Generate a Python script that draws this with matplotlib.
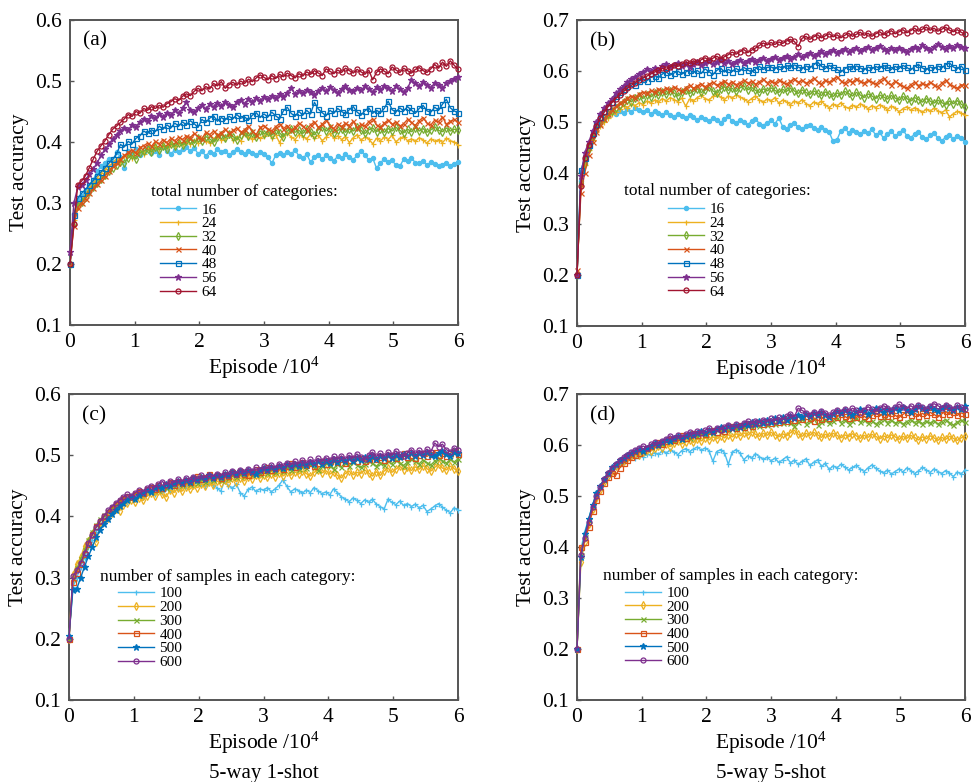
import numpy as np
import matplotlib
matplotlib.use("Agg")
import matplotlib.pyplot as plt

plt.rcParams['font.family'] = ['Liberation Serif', 'DejaVu Serif']
plt.rcParams['mathtext.fontset'] = 'custom'
plt.rcParams['mathtext.rm'] = 'Liberation Serif'
plt.rcParams['mathtext.it'] = 'Liberation Serif:italic'

# ---------------- data ----------------
# episodes (unit: 10^4), one evaluation every 600 episodes
episode = np.linspace(0, 6, 101)

# panel (a): 5-way 1-shot, total number of categories
a_16 = [0.200, 0.282, 0.305, 0.312, 0.318, 0.330, 0.338, 0.352, 0.360, 0.366,
        0.372, 0.368, 0.383, 0.376, 0.358, 0.385, 0.381, 0.388, 0.379, 0.384,
        0.390, 0.382, 0.386, 0.378, 0.392, 0.385, 0.380, 0.387, 0.383, 0.389,
        0.391, 0.386, 0.390, 0.381, 0.385, 0.377, 0.384, 0.380, 0.388, 0.383,
        0.386, 0.379, 0.383, 0.389, 0.384, 0.380, 0.386, 0.382, 0.378, 0.383,
        0.380, 0.376, 0.365, 0.378, 0.382, 0.379, 0.384, 0.380, 0.387, 0.377,
        0.373, 0.380, 0.367, 0.375, 0.379, 0.372, 0.378, 0.374, 0.369, 0.377,
        0.373, 0.380, 0.376, 0.371, 0.378, 0.386, 0.379, 0.370, 0.374, 0.357,
        0.366, 0.372, 0.367, 0.370, 0.362, 0.360, 0.372, 0.369, 0.374, 0.366,
        0.365, 0.369, 0.362, 0.367, 0.364, 0.360, 0.363, 0.366, 0.361, 0.364,
        0.367]
a_24 = [0.200, 0.272, 0.298, 0.305, 0.314, 0.325, 0.332, 0.341, 0.349, 0.355,
        0.360, 0.366, 0.372, 0.368, 0.377, 0.380, 0.374, 0.383, 0.386, 0.381,
        0.390, 0.386, 0.393, 0.388, 0.395, 0.392, 0.398, 0.394, 0.400, 0.396,
        0.401, 0.397, 0.404, 0.399, 0.406, 0.402, 0.398, 0.405, 0.410, 0.403,
        0.407, 0.412, 0.404, 0.409, 0.401, 0.413, 0.408, 0.405, 0.411, 0.406,
        0.410, 0.414, 0.407, 0.412, 0.399, 0.411, 0.415, 0.408, 0.404, 0.412,
        0.409, 0.405, 0.413, 0.407, 0.411, 0.402, 0.408, 0.414, 0.406, 0.410,
        0.404, 0.409, 0.399, 0.407, 0.412, 0.403, 0.408, 0.405, 0.397, 0.406,
        0.402, 0.408, 0.404, 0.411, 0.400, 0.406, 0.409, 0.402, 0.405, 0.401,
        0.407, 0.403, 0.398, 0.405, 0.401, 0.404, 0.399, 0.406, 0.402, 0.400,
        0.395]
a_32 = [0.200, 0.268, 0.295, 0.302, 0.310, 0.318, 0.326, 0.333, 0.340, 0.346,
        0.352, 0.358, 0.362, 0.368, 0.366, 0.374, 0.378, 0.372, 0.382, 0.385,
        0.388, 0.384, 0.391, 0.387, 0.394, 0.389, 0.397, 0.393, 0.399, 0.395,
        0.401, 0.404, 0.398, 0.406, 0.402, 0.409, 0.405, 0.400, 0.408, 0.411,
        0.407, 0.413, 0.409, 0.404, 0.412, 0.416, 0.410, 0.414, 0.408, 0.418,
        0.413, 0.417, 0.411, 0.420, 0.415, 0.409, 0.418, 0.422, 0.416, 0.419,
        0.414, 0.421, 0.417, 0.412, 0.420, 0.424, 0.418, 0.423, 0.415, 0.419,
        0.422, 0.416, 0.421, 0.418, 0.425, 0.419, 0.414, 0.420, 0.423, 0.417,
        0.421, 0.416, 0.422, 0.418, 0.424, 0.419, 0.415, 0.421, 0.417, 0.423,
        0.418, 0.422, 0.416, 0.420, 0.425, 0.419, 0.417, 0.423, 0.418, 0.421,
        0.419]
a_40 = [0.200, 0.262, 0.292, 0.300, 0.307, 0.316, 0.324, 0.331, 0.338, 0.345,
        0.352, 0.360, 0.366, 0.372, 0.378, 0.383, 0.387, 0.382, 0.391, 0.394,
        0.398, 0.393, 0.401, 0.397, 0.404, 0.399, 0.406, 0.402, 0.408, 0.404,
        0.410, 0.407, 0.414, 0.409, 0.405, 0.416, 0.412, 0.418, 0.411, 0.415,
        0.421, 0.414, 0.419, 0.423, 0.416, 0.420, 0.426, 0.418, 0.412, 0.424,
        0.427, 0.421, 0.418, 0.425, 0.430, 0.422, 0.427, 0.419, 0.424, 0.431,
        0.426, 0.420, 0.428, 0.433, 0.424, 0.429, 0.436, 0.427, 0.422, 0.430,
        0.425, 0.431, 0.427, 0.434, 0.423, 0.429, 0.426, 0.433, 0.438, 0.428,
        0.424, 0.431, 0.436, 0.429, 0.433, 0.426, 0.430, 0.437, 0.432, 0.427,
        0.435, 0.440, 0.431, 0.428, 0.436, 0.433, 0.441, 0.429, 0.434, 0.437,
        0.432]
a_48 = [0.200, 0.280, 0.308, 0.316, 0.322, 0.330, 0.337, 0.345, 0.351, 0.358,
        0.365, 0.372, 0.380, 0.396, 0.392, 0.401, 0.397, 0.406, 0.410, 0.418,
        0.414, 0.420, 0.417, 0.426, 0.421, 0.428, 0.423, 0.431, 0.426, 0.433,
        0.428, 0.435, 0.430, 0.424, 0.437, 0.432, 0.439, 0.443, 0.434, 0.440,
        0.436, 0.442, 0.438, 0.445, 0.439, 0.441, 0.436, 0.444, 0.448, 0.440,
        0.446, 0.441, 0.449, 0.443, 0.438, 0.451, 0.457, 0.447, 0.442, 0.450,
        0.444, 0.452, 0.446, 0.465, 0.454, 0.448, 0.443, 0.452, 0.447, 0.455,
        0.450, 0.446, 0.453, 0.458, 0.449, 0.444, 0.451, 0.456, 0.447, 0.452,
        0.448, 0.455, 0.467, 0.453, 0.449, 0.456, 0.451, 0.458, 0.452, 0.447,
        0.455, 0.460, 0.451, 0.449, 0.457, 0.452, 0.462, 0.470, 0.456, 0.451,
        0.448]
a_56 = [0.220, 0.300, 0.326, 0.330, 0.338, 0.347, 0.356, 0.366, 0.378, 0.388,
        0.396, 0.405, 0.412, 0.418, 0.423, 0.420, 0.428, 0.425, 0.433, 0.438,
        0.435, 0.442, 0.439, 0.446, 0.441, 0.448, 0.444, 0.452, 0.447, 0.455,
        0.466, 0.452, 0.449, 0.456, 0.460, 0.454, 0.462, 0.457, 0.464, 0.459,
        0.466, 0.461, 0.458, 0.465, 0.469, 0.463, 0.470, 0.466, 0.472, 0.468,
        0.474, 0.470, 0.476, 0.472, 0.479, 0.474, 0.481, 0.489, 0.478, 0.484,
        0.480, 0.486, 0.482, 0.477, 0.484, 0.488, 0.483, 0.490, 0.485, 0.481,
        0.487, 0.492, 0.486, 0.483, 0.489, 0.485, 0.491, 0.487, 0.482, 0.490,
        0.486, 0.492, 0.488, 0.484, 0.491, 0.487, 0.482, 0.489, 0.501, 0.496,
        0.492, 0.498, 0.494, 0.489, 0.497, 0.493, 0.488, 0.496, 0.500, 0.503,
        0.507]
a_64 = [0.200, 0.265, 0.330, 0.336, 0.345, 0.358, 0.372, 0.385, 0.394, 0.402,
        0.412, 0.421, 0.426, 0.432, 0.438, 0.445, 0.442, 0.450, 0.447, 0.455,
        0.452, 0.458, 0.455, 0.460, 0.457, 0.463, 0.466, 0.471, 0.468, 0.475,
        0.479, 0.476, 0.483, 0.488, 0.484, 0.491, 0.487, 0.496, 0.492, 0.499,
        0.488, 0.494, 0.498, 0.493, 0.500, 0.496, 0.503, 0.499, 0.505, 0.510,
        0.506, 0.502, 0.509, 0.504, 0.511, 0.507, 0.513, 0.509, 0.505, 0.512,
        0.508, 0.515, 0.511, 0.517, 0.513, 0.509, 0.520, 0.516, 0.512, 0.518,
        0.514, 0.521, 0.517, 0.513, 0.519, 0.515, 0.511, 0.518, 0.502, 0.514,
        0.520, 0.516, 0.512, 0.523, 0.518, 0.514, 0.521, 0.517, 0.513, 0.519,
        0.522, 0.517, 0.514, 0.520, 0.527, 0.521, 0.531, 0.524, 0.533, 0.526,
        0.519]

# panel (b): 5-way 5-shot, total number of categories
b_16 = [0.200, 0.385, 0.420, 0.450, 0.475, 0.490, 0.500, 0.505, 0.512, 0.520,
        0.515, 0.522, 0.518, 0.525, 0.520, 0.527, 0.523, 0.519, 0.524, 0.516,
        0.521, 0.517, 0.513, 0.519, 0.514, 0.510, 0.516, 0.511, 0.507, 0.513,
        0.509, 0.504, 0.510, 0.506, 0.501, 0.508, 0.503, 0.499, 0.505, 0.511,
        0.502, 0.498, 0.504, 0.500, 0.495, 0.501, 0.506, 0.497, 0.493, 0.499,
        0.503, 0.496, 0.508, 0.491, 0.487, 0.494, 0.498, 0.490, 0.486, 0.492,
        0.495, 0.488, 0.484, 0.491, 0.485, 0.480, 0.462, 0.465, 0.483, 0.488,
        0.479, 0.485, 0.481, 0.476, 0.483, 0.478, 0.486, 0.474, 0.480, 0.468,
        0.477, 0.483, 0.472, 0.478, 0.485, 0.473, 0.469, 0.476, 0.481, 0.470,
        0.466, 0.474, 0.479, 0.468, 0.462, 0.471, 0.475, 0.467, 0.473, 0.469,
        0.460]
b_24 = [0.200, 0.375, 0.415, 0.445, 0.465, 0.480, 0.492, 0.500, 0.508, 0.515,
        0.520, 0.526, 0.531, 0.528, 0.535, 0.532, 0.538, 0.534, 0.541, 0.537,
        0.543, 0.539, 0.546, 0.541, 0.548, 0.544, 0.540, 0.547, 0.531, 0.545,
        0.541, 0.548, 0.552, 0.546, 0.543, 0.550, 0.555, 0.549, 0.544, 0.551,
        0.547, 0.553, 0.549, 0.545, 0.540, 0.546, 0.551, 0.543, 0.539, 0.545,
        0.541, 0.548, 0.537, 0.543, 0.539, 0.534, 0.541, 0.537, 0.544, 0.536,
        0.532, 0.539, 0.535, 0.541, 0.533, 0.528, 0.535, 0.531, 0.538, 0.530,
        0.527, 0.533, 0.529, 0.536, 0.531, 0.526, 0.532, 0.528, 0.534, 0.529,
        0.524, 0.531, 0.527, 0.520, 0.526, 0.530, 0.523, 0.528, 0.524, 0.519,
        0.525, 0.521, 0.527, 0.522, 0.518, 0.524, 0.510, 0.516, 0.521, 0.517,
        0.513]
b_32 = [0.200, 0.380, 0.418, 0.448, 0.470, 0.486, 0.498, 0.507, 0.515, 0.522,
        0.528, 0.534, 0.539, 0.543, 0.540, 0.547, 0.551, 0.546, 0.553, 0.549,
        0.556, 0.552, 0.559, 0.554, 0.561, 0.557, 0.551, 0.558, 0.563, 0.556,
        0.560, 0.565, 0.558, 0.562, 0.568, 0.561, 0.557, 0.564, 0.569, 0.562,
        0.566, 0.560, 0.567, 0.571, 0.563, 0.568, 0.562, 0.558, 0.565, 0.561,
        0.567, 0.562, 0.558, 0.564, 0.560, 0.566, 0.561, 0.556, 0.563, 0.558,
        0.554, 0.561, 0.557, 0.552, 0.559, 0.555, 0.550, 0.557, 0.553, 0.560,
        0.556, 0.551, 0.558, 0.553, 0.548, 0.555, 0.551, 0.546, 0.553, 0.549,
        0.545, 0.552, 0.547, 0.543, 0.550, 0.546, 0.541, 0.548, 0.544, 0.539,
        0.546, 0.541, 0.537, 0.543, 0.538, 0.534, 0.541, 0.536, 0.542, 0.535,
        0.530]
b_40 = [0.210, 0.360, 0.400, 0.435, 0.460, 0.480, 0.495, 0.506, 0.516, 0.524,
        0.531, 0.537, 0.542, 0.547, 0.551, 0.548, 0.555, 0.559, 0.556, 0.562,
        0.558, 0.565, 0.561, 0.567, 0.563, 0.569, 0.565, 0.560, 0.567, 0.572,
        0.566, 0.571, 0.575, 0.569, 0.574, 0.578, 0.572, 0.576, 0.581, 0.574,
        0.579, 0.573, 0.577, 0.582, 0.576, 0.580, 0.574, 0.579, 0.584, 0.577,
        0.581, 0.576, 0.583, 0.578, 0.574, 0.580, 0.585, 0.578, 0.582, 0.576,
        0.580, 0.586, 0.579, 0.575, 0.582, 0.578, 0.584, 0.589, 0.581, 0.576,
        0.583, 0.578, 0.585, 0.580, 0.576, 0.582, 0.578, 0.574, 0.581, 0.586,
        0.578, 0.573, 0.580, 0.575, 0.570, 0.566, 0.573, 0.578, 0.571, 0.576,
        0.572, 0.578, 0.573, 0.569, 0.576, 0.582, 0.574, 0.570, 0.566, 0.573,
        0.572]
b_48 = [0.200, 0.405, 0.430, 0.455, 0.478, 0.496, 0.510, 0.522, 0.531, 0.540,
        0.550, 0.558, 0.565, 0.571, 0.576, 0.573, 0.580, 0.584, 0.581, 0.587,
        0.591, 0.587, 0.594, 0.598, 0.592, 0.596, 0.600, 0.594, 0.598, 0.602,
        0.597, 0.601, 0.595, 0.604, 0.599, 0.593, 0.601, 0.606, 0.598, 0.603,
        0.599, 0.605, 0.600, 0.607, 0.602, 0.598, 0.604, 0.609, 0.603, 0.607,
        0.608, 0.604, 0.609, 0.605, 0.611, 0.607, 0.612, 0.608, 0.604, 0.610,
        0.606, 0.612, 0.618, 0.609, 0.605, 0.611, 0.607, 0.603, 0.598, 0.604,
        0.609, 0.605, 0.610, 0.606, 0.602, 0.608, 0.604, 0.609, 0.605, 0.611,
        0.607, 0.603, 0.609, 0.605, 0.611, 0.607, 0.602, 0.608, 0.613, 0.606,
        0.602, 0.608, 0.604, 0.610, 0.606, 0.612, 0.616, 0.608, 0.604, 0.610,
        0.601]
b_56 = [0.200, 0.395, 0.440, 0.460, 0.482, 0.500, 0.515, 0.527, 0.537, 0.546,
        0.556, 0.564, 0.571, 0.578, 0.584, 0.589, 0.594, 0.598, 0.603, 0.600,
        0.606, 0.602, 0.609, 0.613, 0.607, 0.612, 0.616, 0.610, 0.614, 0.608,
        0.613, 0.617, 0.611, 0.615, 0.619, 0.613, 0.617, 0.621, 0.615, 0.619,
        0.614, 0.618, 0.622, 0.616, 0.620, 0.624, 0.618, 0.622, 0.626, 0.620,
        0.624, 0.628, 0.622, 0.626, 0.630, 0.624, 0.628, 0.633, 0.627, 0.631,
        0.636, 0.630, 0.634, 0.639, 0.633, 0.637, 0.642, 0.636, 0.640, 0.644,
        0.637, 0.641, 0.645, 0.639, 0.643, 0.647, 0.641, 0.645, 0.649, 0.643,
        0.640, 0.645, 0.641, 0.646, 0.642, 0.638, 0.644, 0.648, 0.643, 0.651,
        0.646, 0.642, 0.648, 0.653, 0.647, 0.643, 0.649, 0.645, 0.651, 0.648,
        0.646]
b_64 = [0.200, 0.375, 0.430, 0.455, 0.475, 0.493, 0.507, 0.519, 0.530, 0.538,
        0.546, 0.553, 0.560, 0.566, 0.572, 0.577, 0.582, 0.586, 0.590, 0.594,
        0.598, 0.601, 0.605, 0.603, 0.608, 0.612, 0.609, 0.614, 0.618, 0.615,
        0.620, 0.617, 0.622, 0.626, 0.621, 0.625, 0.629, 0.624, 0.628, 0.632,
        0.637, 0.633, 0.638, 0.642, 0.636, 0.641, 0.645, 0.650, 0.655, 0.651,
        0.656, 0.652, 0.657, 0.654, 0.659, 0.662, 0.658, 0.648, 0.664, 0.668,
        0.662, 0.667, 0.671, 0.665, 0.669, 0.673, 0.667, 0.671, 0.665, 0.670,
        0.674, 0.668, 0.672, 0.676, 0.670, 0.674, 0.668, 0.673, 0.677, 0.671,
        0.675, 0.679, 0.673, 0.677, 0.681, 0.675, 0.679, 0.684, 0.678, 0.682,
        0.686, 0.680, 0.684, 0.678, 0.682, 0.686, 0.680, 0.677, 0.681, 0.676,
        0.672]

# panel (c): 5-way 1-shot, number of samples in each category
c_100 = [0.205, 0.285, 0.300, 0.318, 0.332, 0.350, 0.362, 0.375, 0.385, 0.394,
         0.402, 0.408, 0.415, 0.420, 0.426, 0.424, 0.431, 0.428, 0.435, 0.432,
         0.438, 0.442, 0.437, 0.444, 0.440, 0.447, 0.443, 0.450, 0.446, 0.452,
         0.449, 0.455, 0.451, 0.457, 0.453, 0.449, 0.456, 0.452, 0.447, 0.441,
         0.458, 0.450, 0.446, 0.453, 0.439, 0.433, 0.444, 0.448, 0.441, 0.445,
         0.443, 0.447, 0.440, 0.445, 0.451, 0.460, 0.449, 0.440, 0.445, 0.442,
         0.438, 0.443, 0.439, 0.447, 0.442, 0.437, 0.440, 0.435, 0.445, 0.439,
         0.432, 0.428, 0.424, 0.430, 0.426, 0.421, 0.427, 0.423, 0.428, 0.420,
         0.416, 0.412, 0.428, 0.423, 0.419, 0.425, 0.418, 0.421, 0.416, 0.420,
         0.414, 0.418, 0.408, 0.412, 0.417, 0.421, 0.415, 0.410, 0.406, 0.414,
         0.410]
c_200 = [0.200, 0.305, 0.322, 0.333, 0.352, 0.360, 0.371, 0.358, 0.384, 0.392,
         0.398, 0.406, 0.412, 0.409, 0.418, 0.422, 0.427, 0.423, 0.430, 0.426,
         0.433, 0.438, 0.434, 0.441, 0.436, 0.432, 0.443, 0.439, 0.446, 0.441,
         0.448, 0.444, 0.451, 0.447, 0.453, 0.449, 0.456, 0.451, 0.458, 0.454,
         0.460, 0.455, 0.462, 0.457, 0.463, 0.458, 0.465, 0.461, 0.467, 0.462,
         0.468, 0.464, 0.470, 0.465, 0.471, 0.466, 0.472, 0.467, 0.473, 0.469,
         0.474, 0.470, 0.466, 0.472, 0.476, 0.471, 0.475, 0.469, 0.473, 0.467,
         0.463, 0.470, 0.474, 0.468, 0.472, 0.470, 0.476, 0.471, 0.466, 0.473,
         0.467, 0.474, 0.479, 0.472, 0.477, 0.482, 0.476, 0.480, 0.475, 0.481,
         0.477, 0.483, 0.478, 0.474, 0.480, 0.485, 0.479, 0.476, 0.482, 0.478,
         0.474]
c_300 = [0.200, 0.298, 0.315, 0.330, 0.345, 0.362, 0.375, 0.386, 0.395, 0.402,
         0.409, 0.415, 0.421, 0.426, 0.431, 0.428, 0.434, 0.438, 0.435, 0.440,
         0.444, 0.441, 0.447, 0.443, 0.450, 0.446, 0.452, 0.449, 0.455, 0.451,
         0.457, 0.453, 0.459, 0.455, 0.461, 0.457, 0.463, 0.459, 0.465, 0.460,
         0.466, 0.462, 0.468, 0.464, 0.470, 0.466, 0.472, 0.468, 0.473, 0.469,
         0.475, 0.471, 0.477, 0.473, 0.479, 0.474, 0.480, 0.476, 0.482, 0.477,
         0.483, 0.479, 0.485, 0.480, 0.476, 0.482, 0.487, 0.483, 0.478, 0.485,
         0.481, 0.487, 0.483, 0.489, 0.484, 0.480, 0.486, 0.491, 0.487, 0.482,
         0.488, 0.484, 0.490, 0.486, 0.492, 0.487, 0.483, 0.489, 0.494, 0.490,
         0.486, 0.492, 0.488, 0.484, 0.490, 0.495, 0.491, 0.487, 0.493, 0.489,
         0.494]
c_400 = [0.200, 0.292, 0.308, 0.322, 0.338, 0.355, 0.372, 0.384, 0.393, 0.401,
         0.407, 0.414, 0.420, 0.425, 0.430, 0.434, 0.431, 0.437, 0.441, 0.438,
         0.444, 0.448, 0.445, 0.451, 0.447, 0.453, 0.456, 0.452, 0.458, 0.455,
         0.460, 0.457, 0.462, 0.466, 0.461, 0.465, 0.469, 0.464, 0.468, 0.463,
         0.470, 0.466, 0.472, 0.469, 0.474, 0.470, 0.467, 0.473, 0.477, 0.472,
         0.476, 0.480, 0.475, 0.479, 0.483, 0.478, 0.482, 0.487, 0.481, 0.485,
         0.489, 0.484, 0.488, 0.483, 0.487, 0.491, 0.486, 0.490, 0.494, 0.489,
         0.493, 0.488, 0.492, 0.496, 0.491, 0.495, 0.490, 0.494, 0.498, 0.493,
         0.497, 0.492, 0.496, 0.500, 0.495, 0.499, 0.503, 0.497, 0.501, 0.496,
         0.500, 0.504, 0.498, 0.502, 0.506, 0.500, 0.504, 0.499, 0.503, 0.507,
         0.502]
c_500 = [0.205, 0.280, 0.282, 0.300, 0.318, 0.335, 0.350, 0.366, 0.378, 0.388,
         0.396, 0.404, 0.411, 0.417, 0.422, 0.427, 0.432, 0.429, 0.435, 0.439,
         0.443, 0.440, 0.446, 0.450, 0.447, 0.453, 0.449, 0.455, 0.458, 0.454,
         0.460, 0.456, 0.462, 0.459, 0.464, 0.461, 0.467, 0.463, 0.468, 0.465,
         0.470, 0.467, 0.472, 0.469, 0.474, 0.471, 0.476, 0.473, 0.470, 0.476,
         0.479, 0.475, 0.481, 0.478, 0.483, 0.479, 0.485, 0.481, 0.486, 0.482,
         0.487, 0.484, 0.489, 0.485, 0.490, 0.486, 0.491, 0.488, 0.493, 0.489,
         0.494, 0.490, 0.495, 0.491, 0.496, 0.492, 0.497, 0.493, 0.498, 0.494,
         0.499, 0.495, 0.500, 0.496, 0.501, 0.497, 0.502, 0.498, 0.503, 0.499,
         0.504, 0.500, 0.505, 0.501, 0.498, 0.503, 0.507, 0.502, 0.499, 0.505,
         0.503]
c_600 = [0.200, 0.302, 0.312, 0.324, 0.340, 0.356, 0.370, 0.382, 0.392, 0.400,
         0.410, 0.416, 0.422, 0.427, 0.432, 0.436, 0.433, 0.439, 0.443, 0.440,
         0.446, 0.450, 0.447, 0.453, 0.457, 0.452, 0.458, 0.455, 0.461, 0.457,
         0.463, 0.459, 0.465, 0.461, 0.467, 0.463, 0.468, 0.465, 0.470, 0.466,
         0.472, 0.468, 0.474, 0.470, 0.476, 0.472, 0.478, 0.474, 0.480, 0.476,
         0.482, 0.478, 0.484, 0.479, 0.486, 0.482, 0.488, 0.484, 0.490, 0.486,
         0.492, 0.487, 0.493, 0.489, 0.495, 0.490, 0.496, 0.492, 0.498, 0.493,
         0.499, 0.494, 0.500, 0.495, 0.502, 0.497, 0.493, 0.500, 0.505, 0.498,
         0.503, 0.498, 0.505, 0.500, 0.507, 0.502, 0.498, 0.504, 0.509, 0.503,
         0.508, 0.503, 0.510, 0.505, 0.520, 0.514, 0.518, 0.509, 0.506, 0.512,
         0.508]

# panel (d): 5-way 5-shot, number of samples in each category
d_100 = [0.200, 0.395, 0.430, 0.455, 0.482, 0.505, 0.518, 0.532, 0.542, 0.552,
         0.558, 0.563, 0.568, 0.572, 0.576, 0.574, 0.579, 0.577, 0.582, 0.580,
         0.585, 0.582, 0.588, 0.584, 0.590, 0.586, 0.581, 0.589, 0.593, 0.587,
         0.592, 0.596, 0.590, 0.594, 0.589, 0.568, 0.587, 0.591, 0.585, 0.562,
         0.586, 0.591, 0.584, 0.571, 0.579, 0.574, 0.583, 0.577, 0.572, 0.576,
         0.569, 0.574, 0.566, 0.571, 0.577, 0.565, 0.570, 0.562, 0.568, 0.573,
         0.560, 0.566, 0.571, 0.558, 0.564, 0.552, 0.559, 0.555, 0.562, 0.557,
         0.551, 0.556, 0.560, 0.553, 0.548, 0.555, 0.561, 0.554, 0.549, 0.545,
         0.551, 0.543, 0.548, 0.553, 0.547, 0.555, 0.550, 0.544, 0.549, 0.556,
         0.551, 0.546, 0.553, 0.548, 0.544, 0.550, 0.545, 0.538, 0.547, 0.543,
         0.551]
d_200 = [0.200, 0.370, 0.410, 0.445, 0.475, 0.497, 0.512, 0.528, 0.540, 0.550,
         0.558, 0.564, 0.569, 0.574, 0.578, 0.583, 0.580, 0.587, 0.591, 0.588,
         0.594, 0.598, 0.595, 0.601, 0.597, 0.603, 0.607, 0.602, 0.606, 0.610,
         0.605, 0.611, 0.608, 0.614, 0.610, 0.616, 0.612, 0.618, 0.614, 0.620,
         0.616, 0.622, 0.618, 0.624, 0.619, 0.626, 0.621, 0.617, 0.623, 0.619,
         0.625, 0.620, 0.616, 0.622, 0.618, 0.624, 0.629, 0.621, 0.617, 0.623,
         0.619, 0.625, 0.620, 0.615, 0.621, 0.617, 0.623, 0.619, 0.614, 0.620,
         0.616, 0.622, 0.618, 0.613, 0.619, 0.615, 0.621, 0.617, 0.612, 0.618,
         0.614, 0.620, 0.616, 0.611, 0.617, 0.613, 0.619, 0.615, 0.610, 0.616,
         0.612, 0.618, 0.614, 0.609, 0.615, 0.611, 0.617, 0.613, 0.609, 0.614,
         0.617]
d_300 = [0.200, 0.385, 0.420, 0.452, 0.480, 0.502, 0.518, 0.532, 0.544, 0.553,
         0.561, 0.567, 0.572, 0.577, 0.581, 0.585, 0.589, 0.586, 0.593, 0.597,
         0.600, 0.604, 0.601, 0.607, 0.611, 0.608, 0.614, 0.611, 0.617, 0.614,
         0.620, 0.617, 0.623, 0.620, 0.626, 0.623, 0.629, 0.626, 0.632, 0.629,
         0.634, 0.631, 0.637, 0.633, 0.639, 0.636, 0.641, 0.638, 0.643, 0.640,
         0.645, 0.641, 0.647, 0.643, 0.649, 0.644, 0.638, 0.646, 0.651, 0.642,
         0.647, 0.652, 0.640, 0.645, 0.650, 0.643, 0.648, 0.653, 0.644, 0.649,
         0.642, 0.647, 0.652, 0.645, 0.650, 0.643, 0.648, 0.641, 0.646, 0.651,
         0.644, 0.649, 0.643, 0.647, 0.641, 0.646, 0.650, 0.644, 0.648, 0.642,
         0.647, 0.643, 0.648, 0.641, 0.646, 0.650, 0.644, 0.639, 0.645, 0.649,
         0.645]
d_400 = [0.200, 0.400, 0.410, 0.440, 0.470, 0.492, 0.510, 0.525, 0.538, 0.546,
         0.541, 0.555, 0.565, 0.570, 0.576, 0.581, 0.585, 0.590, 0.594, 0.598,
         0.601, 0.605, 0.602, 0.608, 0.612, 0.609, 0.615, 0.619, 0.614, 0.620,
         0.623, 0.619, 0.625, 0.621, 0.627, 0.630, 0.626, 0.632, 0.628, 0.634,
         0.637, 0.633, 0.639, 0.635, 0.641, 0.637, 0.643, 0.646, 0.641, 0.647,
         0.643, 0.649, 0.645, 0.651, 0.647, 0.653, 0.649, 0.655, 0.651, 0.657,
         0.653, 0.648, 0.655, 0.651, 0.657, 0.653, 0.659, 0.655, 0.661, 0.656,
         0.652, 0.658, 0.654, 0.660, 0.656, 0.652, 0.658, 0.663, 0.657, 0.661,
         0.656, 0.662, 0.658, 0.654, 0.660, 0.665, 0.659, 0.663, 0.657, 0.662,
         0.658, 0.664, 0.660, 0.655, 0.661, 0.666, 0.660, 0.664, 0.658, 0.663,
         0.660]
d_500 = [0.200, 0.380, 0.425, 0.455, 0.482, 0.505, 0.520, 0.534, 0.546, 0.556,
         0.563, 0.570, 0.575, 0.580, 0.584, 0.588, 0.592, 0.589, 0.595, 0.599,
         0.603, 0.600, 0.606, 0.610, 0.607, 0.613, 0.617, 0.612, 0.618, 0.622,
         0.619, 0.624, 0.628, 0.623, 0.629, 0.626, 0.632, 0.636, 0.631, 0.637,
         0.634, 0.640, 0.636, 0.642, 0.639, 0.645, 0.641, 0.647, 0.644, 0.650,
         0.646, 0.652, 0.648, 0.654, 0.650, 0.656, 0.652, 0.658, 0.654, 0.660,
         0.656, 0.662, 0.658, 0.664, 0.659, 0.655, 0.661, 0.666, 0.662, 0.668,
         0.663, 0.659, 0.665, 0.670, 0.666, 0.661, 0.667, 0.672, 0.668, 0.664,
         0.670, 0.666, 0.672, 0.668, 0.674, 0.669, 0.665, 0.671, 0.676, 0.672,
         0.668, 0.674, 0.670, 0.666, 0.672, 0.677, 0.673, 0.669, 0.675, 0.671,
         0.676]
d_600 = [0.200, 0.385, 0.418, 0.450, 0.478, 0.500, 0.518, 0.533, 0.545, 0.555,
         0.563, 0.570, 0.576, 0.581, 0.586, 0.590, 0.594, 0.598, 0.595, 0.601,
         0.605, 0.602, 0.608, 0.612, 0.618, 0.613, 0.619, 0.615, 0.621, 0.625,
         0.621, 0.627, 0.623, 0.629, 0.633, 0.628, 0.634, 0.630, 0.636, 0.640,
         0.635, 0.641, 0.637, 0.643, 0.647, 0.642, 0.648, 0.644, 0.650, 0.646,
         0.652, 0.648, 0.654, 0.650, 0.656, 0.661, 0.655, 0.672, 0.668, 0.663,
         0.659, 0.665, 0.661, 0.667, 0.663, 0.658, 0.664, 0.669, 0.665, 0.671,
         0.666, 0.672, 0.668, 0.663, 0.669, 0.675, 0.670, 0.666, 0.672, 0.677,
         0.673, 0.668, 0.674, 0.680, 0.675, 0.671, 0.677, 0.672, 0.678, 0.674,
         0.670, 0.676, 0.681, 0.677, 0.673, 0.679, 0.675, 0.671, 0.678, 0.674,
         0.670]

category_labels = ['16', '24', '32', '40', '48', '56', '64']
sample_labels = ['100', '200', '300', '400', '500', '600']
category_title = 'total number of categories:'
sample_title = 'number of samples in each category:'
panel_tags = ['(a)', '(b)', '(c)', '(d)']
column_captions = ['5-way 1-shot', '5-way 5-shot']
xlabel_text = r'Episode /10$^{4}$'
ylabel_text = 'Test accuracy'

# ---------------- style ----------------
cat_colors = ['#4DBEEE', '#EDB120', '#77AC30', '#D95319', '#0072BD', '#7E2F8E', '#A2142F']
cat_markers = ['.', '+', 'd', 'x', 's', '*', 'o']
samp_colors = ['#4DBEEE', '#EDB120', '#77AC30', '#D95319', '#0072BD', '#7E2F8E']
samp_markers = ['+', 'd', 'x', 's', '*', 'o']
open_markers = {'d', 's', 'o'}

W, H = 974, 782
fig = plt.figure(figsize=(W / 100, H / 100), dpi=100)


def px_axes(l, t, r, b):
    return fig.add_axes([l / W, 1 - b / H, (r - l) / W, (b - t) / H])


axes = [px_axes(70, 20, 458, 325), px_axes(577, 20, 965, 326),
        px_axes(69, 394, 458, 700), px_axes(577, 394, 965, 700)]

panels = [
    ([a_16, a_24, a_32, a_40, a_48, a_56, a_64], category_labels, cat_colors, cat_markers, category_title, 0.6),
    ([b_16, b_24, b_32, b_40, b_48, b_56, b_64], category_labels, cat_colors, cat_markers, category_title, 0.7),
    ([c_100, c_200, c_300, c_400, c_500, c_600], sample_labels, samp_colors, samp_markers, sample_title, 0.6),
    ([d_100, d_200, d_300, d_400, d_500, d_600], sample_labels, samp_colors, samp_markers, sample_title, 0.7),
]
# legend placement (axes fraction): title x, title y, handles x, first row top
leg_pos = [(0.209, 0.436, 0.232, 0.400), (0.121, 0.440, 0.235, 0.403),
           (0.080, 0.402, 0.126, 0.370), (0.067, 0.405, 0.124, 0.372)]

spine_c = '#555555'
for k, (ax, (series, labels, colors, markers, ltitle, ymax)) in enumerate(zip(axes, panels)):
    for vals, lab, col, mk in zip(series, labels, colors, markers):
        ms = 6 if mk == '.' else (5 if mk == '*' else 3.6)
        ax.plot(episode, vals, color=col, lw=1.0, marker=mk, ms=ms, mew=0.9,
                mfc='none' if mk in open_markers else col, mec=col,
                label=lab, clip_on=False, zorder=3)
    ax.set_xlim(0, 6)
    ax.set_ylim(0.1, ymax)
    ax.set_xticks(range(0, 7))
    ax.set_yticks(np.round(np.arange(0.1, ymax + 0.001, 0.1), 1))
    ax.set_yticklabels([f'{v:.1f}' for v in np.arange(0.1, ymax + 0.001, 0.1)])
    ax.tick_params(direction='in', length=3, width=1.0, color=spine_c,
                   labelsize=15.5, pad=6, top=False, right=False)
    for s in ax.spines.values():
        s.set_color(spine_c)
        s.set_linewidth(1.4)
    ax.set_xlabel(xlabel_text, fontsize=15.5, labelpad=2)
    ax.set_ylabel(ylabel_text, fontsize=15.5, labelpad=4)
    ax.text(0.034, 0.93, panel_tags[k], transform=ax.transAxes, fontsize=15.5,
            va='center', ha='left')
    tx, ty, hx, hy = leg_pos[k]
    ax.text(tx, ty, ltitle, transform=ax.transAxes, fontsize=12.5,
            va='center', ha='left')
    ax.legend(loc='upper left', bbox_to_anchor=(hx, hy), frameon=False,
              fontsize=11, borderpad=0, borderaxespad=0, labelspacing=0.0,
              handlelength=2.35, handletextpad=0.35, numpoints=1)

for ax, cap in zip(axes[2:], column_captions):
    ax.text(0.5, -0.24, cap, transform=ax.transAxes, fontsize=15,
            ha='center', va='center')

fig.savefig('out.png', dpi=100)
